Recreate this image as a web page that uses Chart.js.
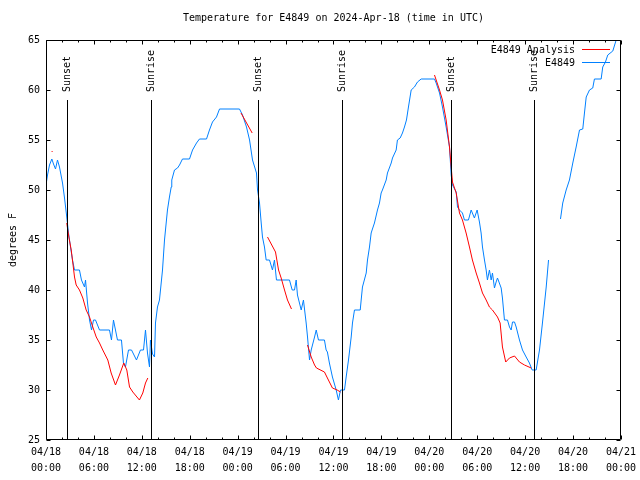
<!DOCTYPE html>
<html>
<head>
<meta charset="utf-8">
<script src="https://cdn.jsdelivr.net/npm/chart.js@4.4.1/dist/chart.umd.min.js"></script>
<style>
html,body{margin:0;padding:0;background:#fff;}
canvas{display:block;}
</style>
</head>
<body>
<canvas id="c" width="640" height="480"></canvas>
<script>
// ---- data (hours since 2024-04-18 00:00 UTC, degrees F) ----
const chartTitle = "Temperature for E4849 on 2024-Apr-18 (time in UTC)";
const yAxisTitle = "degrees F";
const xTickLabels = [
  ["04/18","00:00"],["04/18","06:00"],["04/18","12:00"],["04/18","18:00"],
  ["04/19","00:00"],["04/19","06:00"],["04/19","12:00"],["04/19","18:00"],
  ["04/20","00:00"],["04/20","06:00"],["04/20","12:00"],["04/20","18:00"],
  ["04/21","00:00"]
];
const seriesNames = ["E4849 Analysis", "E4849"];
const seriesColors = ["#ff0000", "#0080ff"];

const sunHours  = [2.62, 13.17, 26.6, 37.1, 50.74, 61.12];
const sunLabels = ["Sunset","Sunrise","Sunset","Sunrise","Sunset","Sunrise"];

const obsHours = [
  0.0,0.19,0.44,0.73,0.94,1.19,1.44,1.69,2.07,2.32,2.57,2.82,3.07,3.32,3.57,4.19,4.44,4.82,4.95,5.20,
  5.45,5.70,5.95,6.20,6.70,7.95,8.20,8.45,8.70,8.95,9.45,9.70,9.95,10.33,10.71,11.33,11.83,12.21,12.46,12.71,
  12.96,13.08,13.34,13.59,13.71,13.96,14.21,14.59,14.84,15.05,15.21,15.46,15.68,15.75,16.09,16.47,16.72,17.09,17.97,18.35,
  18.85,19.22,20.10,20.47,20.85,21.35,21.73,24.23,24.61,25.11,25.49,25.86,26.36,26.49,26.74,26.95,27.11,27.36,27.57,27.99,
  28.36,28.61,28.86,30.49,30.83,31.12,31.33,31.49,31.96,32.24,32.58,32.75,33.00,33.21,33.63,33.84,34.12,34.87,35.08,35.24,
  35.49,35.87,36.34,36.62,36.88,37.38,37.59,37.88,38.22,38.38,38.63,39.35,39.47,39.63,40.10,40.26,40.51,40.72,40.88,41.13,
  41.51,41.76,41.97,42.13,42.60,42.76,43.23,43.39,43.85,44.01,44.35,44.64,44.89,45.14,45.39,45.73,46.14,46.52,46.98,48.65,
  48.86,49.28,49.65,50.11,50.53,50.74,50.90,51.37,51.53,51.78,52.15,52.40,52.90,53.24,53.65,53.99,54.28,54.49,54.66,54.91,
  55.12,55.28,55.53,55.75,55.91,56.16,56.37,56.54,57.00,57.16,57.41,57.79,58.04,58.25,58.42,58.67,58.88,59.29,59.67,60.13,
  60.54,60.88,61.38,61.80,62.17,62.64,62.93,63.60,64.43,64.71,65.14,65.55,65.97,66.39,66.81,67.22,67.43,67.65,68.06,68.47,
  68.68,69.52,69.72,70.06,70.35,70.98,71.40,71.94
];
const obsTemps = [
  50.5,51.5,52.5,53.1,52.6,52.1,53.0,52.3,50.7,49.2,47.5,45.7,44.3,43.0,42.0,42.0,41.0,40.3,41.0,38.7,
  37.0,36.0,37.0,37.0,36.0,36.0,35.0,37.0,36.0,35.0,35.0,32.7,32.3,34.0,34.0,33.0,34.0,34.0,36.0,33.7,
  32.3,35.0,33.6,33.3,36.7,38.3,39.0,42.0,45.0,46.7,48.0,49.3,50.3,51.0,52.0,52.2,52.5,53.1,53.1,54.0,
  54.7,55.1,55.1,56.0,56.8,57.3,58.1,58.1,57.5,56.3,55.0,53.0,51.7,50.0,48.7,46.7,45.3,44.3,43.0,43.0,
  42.0,43.0,41.0,41.0,40.0,40.0,41.0,39.5,38.0,39.0,36.7,35.3,33.0,34.0,35.3,36.0,35.0,35.0,34.0,33.8,
  32.7,31.3,30.0,29.0,30.0,30.0,31.3,33.0,35.3,36.7,38.0,38.0,39.0,40.3,41.7,43.0,44.3,45.7,46.1,46.7,
  48.0,48.7,49.7,50.0,51.0,51.7,52.7,53.2,54.0,55.0,55.2,55.7,56.3,57.0,58.3,60.0,60.3,60.8,61.1,61.1,
  60.7,59.7,58.3,56.3,54.3,51.5,50.5,49.8,48.3,48.0,47.7,47.0,47.0,48.0,47.2,48.0,46.8,45.7,44.3,43.0,
  42.0,41.0,42.0,41.0,41.7,40.2,40.8,41.2,40.2,39.2,37.0,37.0,36.3,36.0,36.8,36.8,36.3,35.0,34.0,33.3,
  32.7,32.0,32.0,34.0,36.7,40.3,43.0,null,47.1,48.7,50.0,51.0,52.7,54.3,56.0,56.1,57.7,59.3,60.0,60.2,
  61.1,61.1,62.3,62.8,63.5,63.9,65.0,66.0
];

const anaHours = [
  0.73,0.80,1.5,
  2.60,2.86,3.16,3.36,3.57,3.78,4.19,4.61,5.03,5.45,5.86,6.29,6.70,7.11,7.74,8.16,8.70,9.20,9.74,10.12,10.46,10.87,11.70,12.12,12.46,12.75,
  18.0,
  24.42,25.82,
  26.8,
  27.74,28.74,29.12,29.45,29.87,30.24,30.74,
  31.5,
  32.75,33.21,33.63,33.87,34.87,35.24,35.87,36.46,36.88,
  42.0,
  48.65,49.28,49.65,50.11,50.53,50.90,51.37,51.78,52.15,52.61,53.03,53.40,53.87,54.28,54.66,55.12,55.53,55.91,56.54,56.87,57.16,57.57,58.04,58.67,59.29,59.92,60.76
];
const anaTemps = [
  53.9,53.8,null,
  46.7,45.3,44.0,42.7,41.3,40.5,40.0,39.2,38.0,37.3,36.3,35.3,34.7,34.0,33.0,31.7,30.5,31.5,32.7,32.0,30.3,29.8,29.0,29.7,30.7,31.2,
  null,
  57.7,55.7,
  null,
  45.3,43.8,42.0,41.2,40.0,39.0,38.1,
  null,
  34.5,33.3,32.5,32.2,31.8,31.2,30.2,30.0,29.8,
  null,
  61.5,60.0,59.0,57.0,54.3,50.8,49.7,47.7,47.0,45.7,44.3,43.0,41.7,40.7,39.7,39.0,38.3,38.0,37.3,36.7,34.3,32.8,33.2,33.4,32.8,32.5,32.2
];

const xMin = 0, xMax = 72, xStep = 6, xMinorStep = 2;
const yMin = 25, yMax = 65, yStep = 5;

// ---- build ----
const FONT = "'DejaVu Sans Mono', 'Liberation Mono', monospace";
const toXY = (hs, vs) => hs.map((h, i) => ({x: h, y: vs[i]}));

const framePlugin = {
  id: 'frame',
  afterDatasetsDraw(chart) {
    const {ctx, chartArea: a, scales: {x, y}} = chart;
    ctx.save();
    ctx.strokeStyle = '#000';
    ctx.lineWidth = 1;
    // sunrise / sunset lines
    ctx.font = "10px " + FONT;
    ctx.fillStyle = '#000';
    sunHours.forEach((h, i) => {
      const px = Math.round(x.getPixelForValue(h)) + 0.5;
      ctx.beginPath();
      ctx.moveTo(px, 100);
      ctx.lineTo(px, a.bottom);
      ctx.stroke();
      ctx.save();
      ctx.translate(px, 92);
      ctx.rotate(-Math.PI / 2);
      ctx.textAlign = 'left';
      ctx.textBaseline = 'middle';
      ctx.fillText(sunLabels[i], 0, 0);
      ctx.restore();
    });
    // frame
    const L = Math.round(a.left) + 0.5, R = Math.round(a.right) - 0.5;
    const T = Math.round(a.top) + 0.5, B = Math.round(a.bottom) - 0.5;
    ctx.beginPath();
    ctx.rect(L, T, R - L, B - T);
    ctx.stroke();
    // ticks (inward, mirrored)
    ctx.beginPath();
    for (let v = yMin; v <= yMax; v += yStep) {
      const py = Math.round(y.getPixelForValue(v)) + 0.5;
      ctx.moveTo(L, py); ctx.lineTo(L + 4, py);
      ctx.moveTo(R, py); ctx.lineTo(R - 4, py);
    }
    for (let h = xMin; h <= xMax; h += xMinorStep) {
      const px = Math.round(x.getPixelForValue(h)) + 0.5;
      const len = (h % xStep === 0) ? 4 : 2;
      ctx.moveTo(px, B); ctx.lineTo(px, B - len);
      ctx.moveTo(px, T); ctx.lineTo(px, T + len);
    }
    ctx.stroke();
    // title
    ctx.textAlign = 'center';
    ctx.textBaseline = 'middle';
    ctx.fillText(chartTitle, (a.left + a.right) / 2, 18);
    // legend
    ctx.textAlign = 'right';
    seriesNames.forEach((name, i) => {
      const ly = 50 + i * 13;
      ctx.fillStyle = '#000';
      ctx.fillText(name, 575, ly);
      ctx.strokeStyle = seriesColors[i];
      ctx.beginPath();
      ctx.moveTo(582, ly - 0.5);
      ctx.lineTo(610, ly - 0.5);
      ctx.stroke();
    });
    ctx.restore();
  }
};

new Chart(document.getElementById('c'), {
  type: 'line',
  data: {
    datasets: [
      {label: seriesNames[0], data: toXY(anaHours, anaTemps), borderColor: seriesColors[0],
       borderWidth: 1, pointRadius: 0, spanGaps: false, fill: false, tension: 0},
      {label: seriesNames[1], data: toXY(obsHours, obsTemps), borderColor: seriesColors[1],
       borderWidth: 1, pointRadius: 0, spanGaps: false, fill: false, tension: 0}
    ]
  },
  options: {
    responsive: false,
    animation: false,
    devicePixelRatio: 1,
    layout: {padding: {top: 40, right: 19, left: 0, bottom: 0}},
    plugins: {legend: {display: false}, title: {display: false}, tooltip: {enabled: false}},
    scales: {
      x: {
        type: 'linear', min: xMin, max: xMax,
        grid: {display: false, drawTicks: false},
        border: {display: false},
        ticks: {
          stepSize: xStep, autoSkip: false, maxRotation: 0, minRotation: 0, padding: 4,
          color: '#000', font: {family: FONT, size: 10, lineHeight: 1.6},
          callback: (v) => xTickLabels[Math.round(v / xStep)]
        },
        afterFit: (s) => { s.height = 40; }
      },
      y: {
        min: yMin, max: yMax,
        grid: {display: false, drawTicks: false},
        border: {display: false},
        ticks: {stepSize: yStep, padding: 6, color: '#000', font: {family: FONT, size: 10}},
        title: {display: true, text: yAxisTitle, color: '#000', font: {family: FONT, size: 10}, padding: {top: 7, bottom: 0}},
        afterFit: (s) => { s.width = 46; }
      }
    }
  },
  plugins: [framePlugin]
});
</script>
</body>
</html>
